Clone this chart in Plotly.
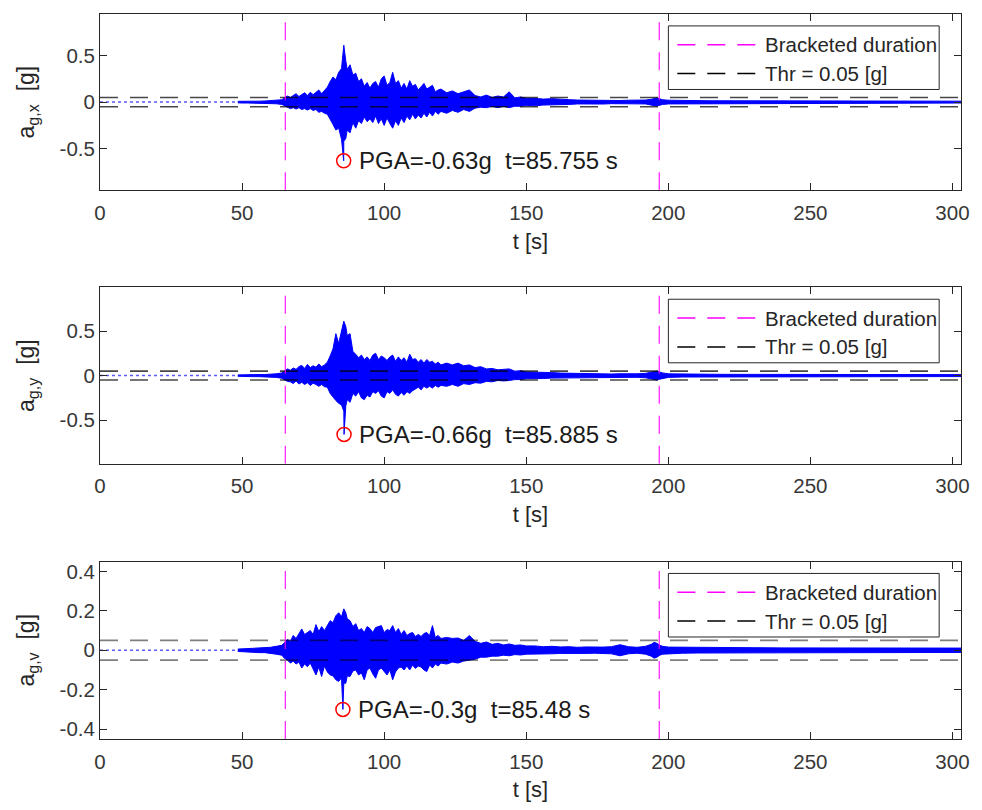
import plotly.graph_objects as go

# ---------------------------------------------------------------------------
# Record data: envelope of the ground acceleration (upper / lower peaks) [g]
# sampled on a common time grid [s]
# ---------------------------------------------------------------------------
T = [48.5, 50, 52, 54, 56, 58, 60, 62, 64,
     65, 66, 67, 68, 69, 70, 71, 72, 73, 74, 75, 76, 77, 78, 79, 80, 81, 82, 83, 84, 85,
     85.8,
     86.5, 87, 88, 89, 90, 91, 92, 93, 94, 95, 96, 97, 98, 99, 100, 101, 102, 103, 104,
     105, 106, 107, 108, 109, 110, 111, 112, 113, 114, 115, 116, 117, 118, 119, 120,
     122, 124, 126, 128, 130, 132, 134, 136, 138, 140, 142, 144, 146, 148, 150,
     153, 156, 159, 162, 165, 168, 171, 174, 177, 180, 183, 186, 189, 192,
     194, 195, 196, 197, 198, 200,
     205, 210, 215, 220, 230, 240, 250, 260, 270, 280, 290, 303]

ACC_X_UP = [0.008, 0.01, 0.01, 0.012, 0.01, 0.012, 0.015, 0.018, 0.025,
            0.045, 0.065, 0.05, 0.075, 0.09, 0.06, 0.085, 0.1, 0.07, 0.105, 0.08, 0.11, 0.13, 0.09, 0.12, 0.16, 0.22, 0.27, 0.24, 0.32, 0.36,
            0.61,
            0.44, 0.35, 0.4, 0.29, 0.31, 0.22, 0.25, 0.17, 0.21, 0.15, 0.2, 0.22, 0.16, 0.25, 0.28, 0.18, 0.21, 0.32, 0.2,
            0.23, 0.15, 0.2, 0.14, 0.23, 0.17, 0.19, 0.13, 0.17, 0.2, 0.14, 0.16, 0.18, 0.11, 0.13, 0.14,
            0.1, 0.12, 0.09, 0.11, 0.13, 0.07, 0.055, 0.075, 0.05, 0.065, 0.055, 0.11, 0.045, 0.055, 0.04,
            0.04, 0.032, 0.037, 0.028, 0.026, 0.022, 0.02, 0.024, 0.018, 0.021, 0.017, 0.02, 0.018, 0.022,
            0.03, 0.04, 0.045, 0.035, 0.025, 0.02,
            0.016, 0.015, 0.014, 0.014, 0.013, 0.013, 0.012, 0.012, 0.012, 0.011, 0.011, 0.01]
ACC_X_LO = [-0.008, -0.01, -0.01, -0.012, -0.01, -0.012, -0.015, -0.018, -0.025,
            -0.045, -0.055, -0.07, -0.06, -0.075, -0.06, -0.08, -0.07, -0.085, -0.07, -0.09, -0.08, -0.11, -0.1, -0.12, -0.13, -0.19, -0.24, -0.3, -0.28, -0.4,
            -0.42,
            -0.39, -0.3, -0.33, -0.22, -0.28, -0.2, -0.23, -0.16, -0.21, -0.18, -0.22, -0.15, -0.23, -0.18, -0.25, -0.17, -0.23, -0.28, -0.2,
            -0.25, -0.17, -0.22, -0.15, -0.19, -0.13, -0.18, -0.14, -0.17, -0.12, -0.16, -0.11, -0.15, -0.1, -0.13, -0.1,
            -0.12, -0.09, -0.11, -0.08, -0.1, -0.065, -0.055, -0.06, -0.045, -0.06, -0.045, -0.06, -0.045, -0.045, -0.035,
            -0.04, -0.032, -0.035, -0.026, -0.025, -0.02, -0.022, -0.018, -0.021, -0.017, -0.02, -0.017, -0.019, -0.02,
            -0.03, -0.038, -0.042, -0.03, -0.025, -0.02,
            -0.016, -0.015, -0.014, -0.013, -0.013, -0.012, -0.012, -0.012, -0.011, -0.011, -0.011, -0.01]

ACC_Y_UP = [0.008, 0.01, 0.01, 0.012, 0.012, 0.012, 0.015, 0.02, 0.03,
            0.05, 0.075, 0.06, 0.085, 0.07, 0.1, 0.115, 0.08, 0.125, 0.09, 0.11, 0.095, 0.13, 0.1, 0.12, 0.15, 0.22, 0.3, 0.47, 0.36, 0.5,
            0.61,
            0.55, 0.45, 0.47, 0.27, 0.24, 0.2, 0.23, 0.18, 0.21, 0.17, 0.23, 0.25, 0.18, 0.22, 0.2, 0.17, 0.21, 0.23, 0.16,
            0.21, 0.17, 0.2, 0.15, 0.24, 0.18, 0.19, 0.15, 0.18, 0.14, 0.18, 0.15, 0.16, 0.13, 0.15, 0.12,
            0.14, 0.12, 0.14, 0.11, 0.12, 0.09, 0.1, 0.075, 0.08, 0.065, 0.07, 0.075, 0.05, 0.055, 0.04,
            0.04, 0.032, 0.034, 0.028, 0.026, 0.022, 0.024, 0.019, 0.021, 0.018, 0.021, 0.018, 0.02, 0.025,
            0.035, 0.045, 0.05, 0.04, 0.03, 0.02,
            0.016, 0.015, 0.015, 0.014, 0.014, 0.013, 0.013, 0.012, 0.012, 0.012, 0.011, 0.011]
ACC_Y_LO = [-0.008, -0.01, -0.01, -0.012, -0.012, -0.012, -0.015, -0.02, -0.03,
            -0.05, -0.065, -0.07, -0.09, -0.06, -0.095, -0.075, -0.1, -0.08, -0.11, -0.085, -0.1, -0.12, -0.1, -0.125, -0.13, -0.2, -0.24, -0.28, -0.31, -0.33,
            -0.4,
            -0.34, -0.27, -0.3, -0.2, -0.23, -0.18, -0.25, -0.27, -0.22, -0.24, -0.18, -0.2, -0.17, -0.23, -0.25, -0.18, -0.2, -0.16, -0.21,
            -0.23, -0.19, -0.22, -0.18, -0.2, -0.17, -0.15, -0.13, -0.16, -0.12, -0.14, -0.12, -0.14, -0.11, -0.13, -0.11,
            -0.12, -0.1, -0.12, -0.09, -0.1, -0.08, -0.085, -0.065, -0.07, -0.055, -0.06, -0.055, -0.045, -0.045, -0.035,
            -0.035, -0.033, -0.028, -0.028, -0.023, -0.022, -0.019, -0.021, -0.018, -0.02, -0.017, -0.02, -0.019, -0.025,
            -0.035, -0.045, -0.05, -0.04, -0.03, -0.02,
            -0.016, -0.015, -0.014, -0.014, -0.013, -0.013, -0.012, -0.012, -0.012, -0.011, -0.011, -0.011]

ACC_V_UP = [0.006, 0.008, 0.01, 0.01, 0.012, 0.012, 0.015, 0.02, 0.025,
            0.04, 0.055, 0.045, 0.075, 0.06, 0.085, 0.108, 0.08, 0.09, 0.1, 0.08, 0.13, 0.095, 0.12, 0.1, 0.125, 0.15, 0.14, 0.175, 0.19, 0.17,
            0.21,
            0.19, 0.16, 0.15, 0.12, 0.135, 0.1, 0.11, 0.09, 0.12, 0.11, 0.09, 0.115, 0.12, 0.125, 0.09, 0.105, 0.1, 0.125, 0.09,
            0.11, 0.08, 0.1, 0.075, 0.085, 0.09, 0.07, 0.08, 0.07, 0.085, 0.09, 0.075, 0.125, 0.065, 0.075, 0.06,
            0.065, 0.06, 0.062, 0.05, 0.075, 0.045, 0.035, 0.042, 0.03, 0.035, 0.027, 0.032, 0.025, 0.027, 0.022,
            0.022, 0.018, 0.02, 0.017, 0.018, 0.015, 0.017, 0.015, 0.016, 0.018, 0.028, 0.018, 0.015, 0.02,
            0.03, 0.04, 0.035, 0.025, 0.02, 0.016,
            0.015, 0.014, 0.014, 0.013, 0.013, 0.012, 0.012, 0.012, 0.012, 0.011, 0.011, 0.011]
ACC_V_LO = [-0.006, -0.008, -0.01, -0.01, -0.012, -0.012, -0.015, -0.02, -0.025,
            -0.042, -0.05, -0.065, -0.055, -0.07, -0.06, -0.09, -0.07, -0.083, -0.065, -0.09, -0.125, -0.085, -0.133, -0.08, -0.11, -0.125, -0.13, -0.15, -0.158, -0.14,
            -0.167,
            -0.167, -0.13, -0.133, -0.105, -0.1, -0.125, -0.115, -0.15, -0.1, -0.09, -0.12, -0.142, -0.1, -0.09, -0.11, -0.125, -0.1, -0.15, -0.11,
            -0.09, -0.085, -0.1, -0.08, -0.1, -0.075, -0.092, -0.08, -0.085, -0.1, -0.108, -0.075, -0.09, -0.07, -0.08, -0.065,
            -0.07, -0.06, -0.065, -0.055, -0.05, -0.045, -0.035, -0.035, -0.03, -0.03, -0.025, -0.028, -0.022, -0.024, -0.02,
            -0.02, -0.018, -0.018, -0.016, -0.017, -0.015, -0.016, -0.015, -0.015, -0.018, -0.028, -0.018, -0.015, -0.02,
            -0.03, -0.04, -0.035, -0.025, -0.02, -0.016,
            -0.015, -0.014, -0.013, -0.013, -0.012, -0.012, -0.012, -0.012, -0.011, -0.011, -0.011, -0.011]

# Peak ground acceleration of each component: (value [g], time [s])
PGA_X = (-0.63, 85.755)
PGA_Y = (-0.66, 85.885)
PGA_V = (-0.3, 85.48)

THR = 0.05                  # bracketed-duration threshold [g]
BRACKET = [65.2, 196.8]     # first / last exceedance of the threshold [s]
LEAD_IN = [0.0, 48.5]       # zero-padded lead-in before the record [s]
T_END = 303.0

X_TICKS = [0, 50, 100, 150, 200, 250, 300]
Y_TICKS_H = [-0.5, 0, 0.5]
Y_TICKS_V = [-0.4, -0.2, 0, 0.2, 0.4]

PANELS = [
    dict(name="x", up=ACC_X_UP, lo=ACC_X_LO, pga=PGA_X, yt=Y_TICKS_H, thr_alpha=0.72),
    dict(name="y", up=ACC_Y_UP, lo=ACC_Y_LO, pga=PGA_Y, yt=Y_TICKS_H, thr_alpha=0.72),
    dict(name="v", up=ACC_V_UP, lo=ACC_V_LO, pga=PGA_V, yt=Y_TICKS_V, thr_alpha=0.5),
]

# ---------------------------------------------------------------------------
FONT = "Liberation Sans, Arial, Helvetica, sans-serif"
AX_COL = "#262626"
BLUE = "#0000ff"
MAGENTA = "#ff00ff"
DASH = "18px,12px"

W, H = 982, 810
ML, MR, MT, MB = 100, 14, 12, 68
DOMAINS = [(0.757, 1.0), (0.3795, 0.623), (0.0, 0.2448)]

fig = go.Figure()

for i, p in enumerate(PANELS):
    k = "" if i == 0 else str(i + 1)
    xa, ya = "x" + k, "y" + k
    pga_a, pga_t = p["pga"]
    ymax = 1.5 * abs(pga_a)

    # envelope band: upper peaks forward, lower peaks (with the PGA) backward
    lower = sorted(list(zip(T, p["lo"])) + [(pga_t, pga_a)])
    bx = list(T) + [t for t, _ in reversed(lower)]
    by = list(p["up"]) + [a for _, a in reversed(lower)]
    fig.add_trace(go.Scatter(x=bx, y=by, mode="lines", fill="toself",
                             fillcolor=BLUE, line=dict(color=BLUE, width=1),
                             xaxis=xa, yaxis=ya, showlegend=False, hoverinfo="skip"))

    # zero-padded lead-in
    fig.add_trace(go.Scatter(x=LEAD_IN, y=[0, 0], mode="lines",
                             line=dict(color="#5a5aff", width=1.5, dash="dot"),
                             xaxis=xa, yaxis=ya, showlegend=False))

    # threshold lines
    fig.add_trace(go.Scatter(x=[0, T_END, None, 0, T_END], y=[THR, THR, None, -THR, -THR],
                             mode="lines",
                             line=dict(color=f"rgba(0,0,0,{p['thr_alpha']})", width=1.6, dash=DASH),
                             xaxis=xa, yaxis=ya, showlegend=False))

    # bracketed duration limits
    fig.add_trace(go.Scatter(x=[BRACKET[0], BRACKET[0], None, BRACKET[1], BRACKET[1]],
                             y=[-ymax, ymax, None, -ymax, ymax], mode="lines",
                             line=dict(color=MAGENTA, width=1.1, dash=DASH),
                             xaxis=xa, yaxis=ya, showlegend=False))

    # PGA marker
    fig.add_trace(go.Scatter(x=[pga_t], y=[pga_a], mode="markers",
                             marker=dict(symbol="circle-open", size=14, color="red",
                                         line=dict(color="red", width=1.5)),
                             xaxis=xa, yaxis=ya, showlegend=False))
    fig.add_annotation(x=pga_t, y=pga_a, xref=xa, yref=ya, xanchor="left", yanchor="middle",
                       xshift=13, showarrow=False,
                       text=f"PGA={pga_a:g}g\u00a0\u00a0t={pga_t:g} s",
                       font=dict(family=FONT, size=24, color="#1a1a1a"))

    axis_common = dict(showline=True, linecolor=AX_COL, linewidth=1, mirror="ticks",
                       ticks="inside", ticklen=7, tickwidth=1, tickcolor=AX_COL,
                       showgrid=False, zeroline=False,
                       tickfont=dict(family=FONT, size=20.5, color="#383838"))
    fig.layout["xaxis" + k] = dict(
        axis_common, domain=[0, 1], anchor=ya, range=[0, T_END],
        tickvals=X_TICKS, ticktext=[str(v) for v in X_TICKS], ticklabelstandoff=4,
        title=dict(text="t [s]", font=dict(family=FONT, size=22, color="#262626"), standoff=10))
    fig.layout["yaxis" + k] = dict(
        axis_common, domain=list(DOMAINS[i]), anchor=xa, range=[-ymax, ymax],
        tickvals=p["yt"], ticktext=[f"{v:g}" for v in p["yt"]],
        title=dict(text=f"a<sub>g,{p['name']}</sub>\u00a0\u00a0[g]",
                   font=dict(family=FONT, size=23, color="#262626"), standoff=18))

    # legend box
    xd, yd = xa + " domain", ya + " domain"
    ph = (DOMAINS[i][1] - DOMAINS[i][0]) * (H - MT - MB)
    pw = W - ML - MR

    def fx(px):
        return (px - ML) / pw

    def fy(off):
        return 1 - off / ph

    fig.add_shape(type="rect", xref=xd, yref=yd, x0=fx(673), x1=fx(946), y0=fy(76), y1=fy(12),
                  line=dict(color=AX_COL, width=1), fillcolor="white", layer="above")
    for j, (label, col) in enumerate([("Bracketed duration", MAGENTA), (f"Thr = {THR:g} [g]", "#000000")]):
        yy = fy(31 + 29 * j)
        fig.add_shape(type="line", xref=xd, yref=yd, x0=fx(682), x1=fx(762), y0=yy, y1=yy,
                      line=dict(color=col, width=1.5, dash=DASH), layer="above")
        fig.add_annotation(x=fx(768), y=yy, xref=xd, yref=yd, xanchor="left", yanchor="middle",
                           showarrow=False, text=label,
                           font=dict(family=FONT, size=20.5, color="#262626"))

fig.update_layout(width=W, height=H, margin=dict(l=ML, r=MR, t=MT, b=MB),
                  paper_bgcolor="white", plot_bgcolor="white", showlegend=False,
                  font=dict(family=FONT))

fig.write_html("out.html")
